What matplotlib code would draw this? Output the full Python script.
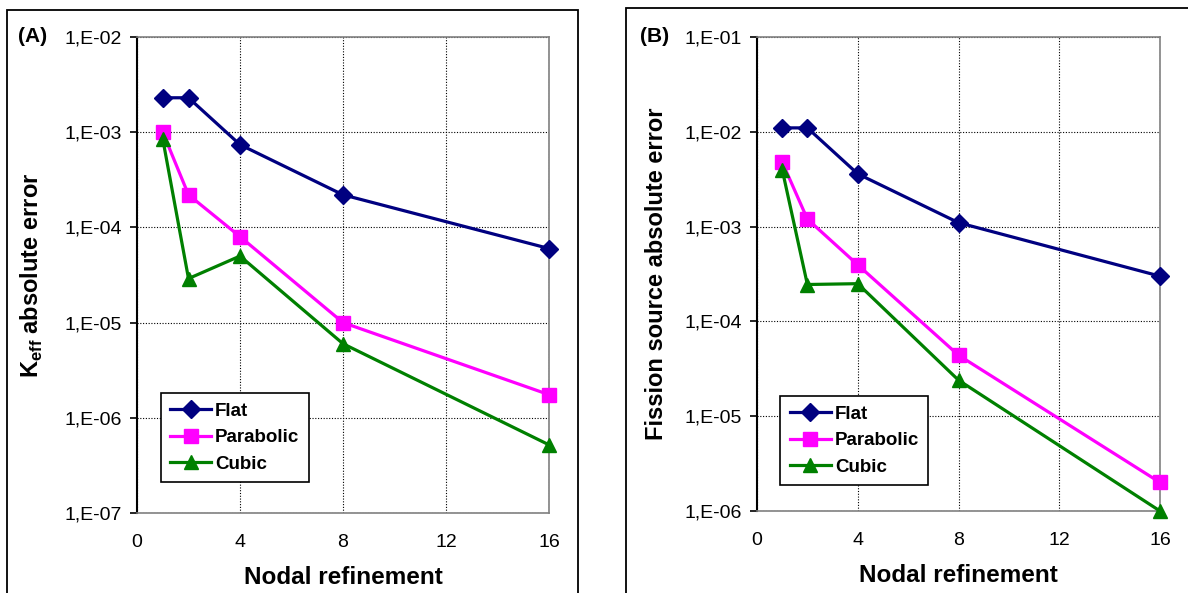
import matplotlib
matplotlib.use("Agg")
import matplotlib.pyplot as plt
import numpy as np
from matplotlib.ticker import FixedLocator, FuncFormatter, NullLocator
from matplotlib.patches import Rectangle

plt.rcParams['font.family'] = ['Liberation Sans', 'DejaVu Sans']
plt.rcParams['mathtext.fontset'] = 'custom'
plt.rcParams['mathtext.rm'] = 'Liberation Sans:bold'
plt.rcParams['mathtext.bf'] = 'Liberation Sans:bold'

# data
refinement = [1, 2, 4, 8, 16]
series_names = ['Flat', 'Parabolic', 'Cubic']

keff_flat = [2.3e-3, 2.3e-3, 7.4e-4, 2.2e-4, 6.0e-5]
keff_parabolic = [1.0e-3, 2.2e-4, 8.0e-5, 1.0e-5, 1.75e-6]
keff_cubic = [8.5e-4, 2.9e-5, 5.0e-5, 6.0e-6, 5.2e-7]

fiss_flat = [1.1e-2, 1.1e-2, 3.6e-3, 1.1e-3, 3.0e-4]
fiss_parabolic = [4.8e-3, 1.2e-3, 3.95e-4, 4.4e-5, 2.0e-6]
fiss_cubic = [4.0e-3, 2.45e-4, 2.5e-4, 2.4e-5, 1.0e-6]

colors = ['#000080', '#FF00FF', '#008000']
markers = ['D', 's', '^']
msizes = [9.5, 10, 10]


def fmt_sci(v, pos):
    return "1,E%+03d" % int(round(np.log10(v)))


def draw_panel(ax, series, ylim, ylabel, tag, ylabelpad, leg_anchor):
    for vals, name, c, m, ms in zip(series, series_names, colors, markers, msizes):
        ax.plot(refinement, vals, color=c, marker=m, markersize=ms, lw=2.3,
                label=name, clip_on=False, zorder=5)
    ax.set_yscale('log')
    ax.set_xlim(0, 16)
    ax.set_ylim(*ylim)
    exps = np.arange(np.log10(ylim[0]), np.log10(ylim[1]) + 0.5)
    ax.yaxis.set_major_locator(FixedLocator(10.0 ** exps))
    ax.yaxis.set_minor_locator(NullLocator())
    ax.yaxis.set_major_formatter(FuncFormatter(fmt_sci))
    ax.set_xticks([0, 4, 8, 12, 16])
    ax.grid(True, which='major', color='black', linestyle=(0, (1, 1.5)), lw=0.8)
    ax.tick_params(axis='y', direction='out', length=5, width=1.2, pad=6, labelsize=14)
    ax.tick_params(axis='x', length=0, pad=15, labelsize=14)
    for s in ['top', 'right', 'bottom']:
        ax.spines[s].set_color('#808080')
        ax.spines[s].set_linewidth(1.2)
    ax.spines['left'].set_color('black')
    ax.spines['left'].set_linewidth(1.5)
    ax.set_xlabel('Nodal refinement', fontsize=17.5, fontweight='bold', labelpad=11)
    ax.set_ylabel(ylabel, fontsize=17, fontweight='bold', labelpad=ylabelpad)
    leg = ax.legend(loc='lower left', bbox_to_anchor=leg_anchor, fancybox=False,
                    edgecolor='black', framealpha=1, handlelength=2.2,
                    handletextpad=0.2, borderpad=0.5, labelspacing=0.5,
                    prop={'weight': 'bold', 'size': 13.5})
    leg.get_frame().set_linewidth(1.2)
    ax.text(-0.29, 1.0, tag, transform=ax.transAxes, fontsize=15,
            fontweight='bold', ha='left', va='center')


fig = plt.figure(figsize=(11.88, 5.93), dpi=100)
fig.patches.append(Rectangle((7 / 1188, -0.05), 571 / 1188, 1.05 - 10 / 593,
                             transform=fig.transFigure, fill=False,
                             edgecolor='black', lw=1.3))
fig.patches.append(Rectangle((626 / 1188, -0.05), 0.6, 1.05 - 8 / 593,
                             transform=fig.transFigure, fill=False,
                             edgecolor='black', lw=1.3))

ax1 = fig.add_axes([137 / 1188, 1 - 513 / 593, 412 / 1188, 476 / 593])
ax2 = fig.add_axes([757 / 1188, 1 - 511 / 593, 403 / 1188, 474 / 593])

draw_panel(ax1, [keff_flat, keff_parabolic, keff_cubic], (1e-7, 1e-2),
           r'K$_{\mathbf{eff}}$ absolute error', '(A)', 14, (0.035, 0.045))
draw_panel(ax2, [fiss_flat, fiss_parabolic, fiss_cubic], (1e-6, 1e-1),
           'Fission source absolute error', '(B)', 12, (0.035, 0.035))

fig.savefig('out.png', dpi=100)
